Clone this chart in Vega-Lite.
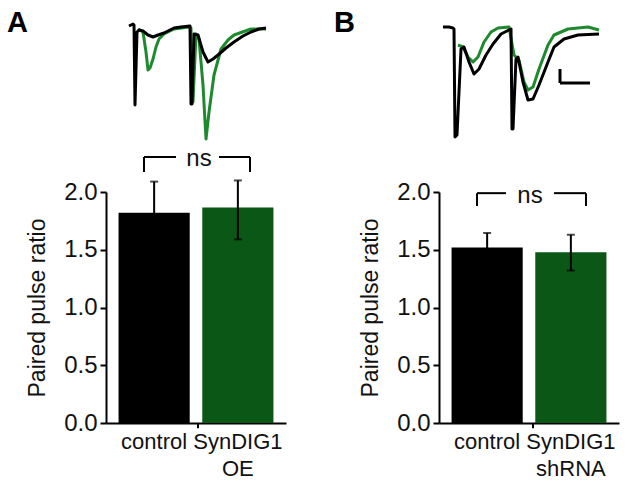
{
  "$schema": "https://vega.github.io/schema/vega-lite/v6.json",
  "background": "white",
  "padding": {"left": 6, "top": 9, "right": 5, "bottom": 5},
  "config": {
    "view": {"stroke": null},
    "font": "Liberation Sans",
    "axis": {
      "grid": false,
      "domainColor": "#000000",
      "domainWidth": 2,
      "tickColor": "#000000",
      "tickWidth": 2,
      "labelColor": "#111111",
      "titleColor": "#111111"
    }
  },
  "datasets": {
    "traceA": [
      {"series": "control", "t": 23, "v": 2},
      {"series": "control", "t": 27, "v": 6},
      {"series": "control", "t": 28, "v": 4},
      {"series": "control", "t": 29, "v": -156},
      {"series": "control", "t": 31, "v": -10},
      {"series": "control", "t": 33, "v": -6},
      {"series": "control", "t": 37, "v": -8},
      {"series": "control", "t": 42, "v": -16},
      {"series": "control", "t": 47, "v": -20},
      {"series": "control", "t": 52, "v": -16},
      {"series": "control", "t": 58, "v": -12},
      {"series": "control", "t": 68, "v": -2},
      {"series": "control", "t": 75, "v": 0},
      {"series": "control", "t": 84, "v": 2},
      {"series": "control", "t": 85, "v": -154},
      {"series": "control", "t": 86, "v": -154},
      {"series": "control", "t": 88, "v": -14},
      {"series": "control", "t": 92, "v": -16},
      {"series": "control", "t": 97, "v": -50},
      {"series": "control", "t": 102, "v": -70},
      {"series": "control", "t": 107, "v": -64},
      {"series": "control", "t": 112, "v": -56},
      {"series": "control", "t": 120, "v": -42},
      {"series": "control", "t": 128, "v": -30},
      {"series": "control", "t": 137, "v": -18},
      {"series": "control", "t": 145, "v": -10},
      {"series": "control", "t": 153, "v": -4},
      {"series": "control", "t": 160, "v": -2},
      {"series": "SynDIG1 OE", "t": 32, "v": -4},
      {"series": "SynDIG1 OE", "t": 37, "v": -10},
      {"series": "SynDIG1 OE", "t": 40, "v": -50},
      {"series": "SynDIG1 OE", "t": 42, "v": -86},
      {"series": "SynDIG1 OE", "t": 44, "v": -82},
      {"series": "SynDIG1 OE", "t": 47, "v": -64},
      {"series": "SynDIG1 OE", "t": 50, "v": -40},
      {"series": "SynDIG1 OE", "t": 53, "v": -24},
      {"series": "SynDIG1 OE", "t": 58, "v": -14},
      {"series": "SynDIG1 OE", "t": 68, "v": -4},
      {"series": "SynDIG1 OE", "t": 83, "v": 0},
      {"series": "SynDIG1 OE", "t": 85, "v": -2},
      {"series": "SynDIG1 OE", "t": 86, "v": -150},
      {"series": "SynDIG1 OE", "t": 87, "v": -150},
      {"series": "SynDIG1 OE", "t": 90, "v": -14},
      {"series": "SynDIG1 OE", "t": 93, "v": -24},
      {"series": "SynDIG1 OE", "t": 97, "v": -116},
      {"series": "SynDIG1 OE", "t": 100, "v": -224},
      {"series": "SynDIG1 OE", "t": 103, "v": -170},
      {"series": "SynDIG1 OE", "t": 108, "v": -96},
      {"series": "SynDIG1 OE", "t": 115, "v": -44},
      {"series": "SynDIG1 OE", "t": 122, "v": -26},
      {"series": "SynDIG1 OE", "t": 128, "v": -16},
      {"series": "SynDIG1 OE", "t": 145, "v": -4},
      {"series": "SynDIG1 OE", "t": 160, "v": -4}
    ],
    "traceB": [
      {"series": "control", "t": 4, "v": 0},
      {"series": "control", "t": 10, "v": 0},
      {"series": "control", "t": 14, "v": -2},
      {"series": "control", "t": 15, "v": -4},
      {"series": "control", "t": 16, "v": -220},
      {"series": "control", "t": 18, "v": -216},
      {"series": "control", "t": 22, "v": -44},
      {"series": "control", "t": 25, "v": -40},
      {"series": "control", "t": 30, "v": -70},
      {"series": "control", "t": 35, "v": -94},
      {"series": "control", "t": 40, "v": -84},
      {"series": "control", "t": 47, "v": -56},
      {"series": "control", "t": 54, "v": -34},
      {"series": "control", "t": 62, "v": -14},
      {"series": "control", "t": 70, "v": -6},
      {"series": "control", "t": 72, "v": -4},
      {"series": "control", "t": 73, "v": -204},
      {"series": "control", "t": 74, "v": -204},
      {"series": "control", "t": 77, "v": -64},
      {"series": "control", "t": 79, "v": -60},
      {"series": "control", "t": 84, "v": -110},
      {"series": "control", "t": 89, "v": -146},
      {"series": "control", "t": 94, "v": -144},
      {"series": "control", "t": 100, "v": -116},
      {"series": "control", "t": 109, "v": -70},
      {"series": "control", "t": 115, "v": -40},
      {"series": "control", "t": 125, "v": -24},
      {"series": "control", "t": 139, "v": -16},
      {"series": "control", "t": 160, "v": -14},
      {"series": "SynDIG1 shRNA", "t": 19, "v": -36},
      {"series": "SynDIG1 shRNA", "t": 24, "v": -40},
      {"series": "SynDIG1 shRNA", "t": 29, "v": -60},
      {"series": "SynDIG1 shRNA", "t": 34, "v": -70},
      {"series": "SynDIG1 shRNA", "t": 39, "v": -60},
      {"series": "SynDIG1 shRNA", "t": 45, "v": -30},
      {"series": "SynDIG1 shRNA", "t": 52, "v": -10},
      {"series": "SynDIG1 shRNA", "t": 59, "v": -2},
      {"series": "SynDIG1 shRNA", "t": 70, "v": 0},
      {"series": "SynDIG1 shRNA", "t": 75, "v": -56},
      {"series": "SynDIG1 shRNA", "t": 80, "v": -66},
      {"series": "SynDIG1 shRNA", "t": 85, "v": -110},
      {"series": "SynDIG1 shRNA", "t": 89, "v": -126},
      {"series": "SynDIG1 shRNA", "t": 94, "v": -120},
      {"series": "SynDIG1 shRNA", "t": 100, "v": -84},
      {"series": "SynDIG1 shRNA", "t": 109, "v": -36},
      {"series": "SynDIG1 shRNA", "t": 115, "v": -16},
      {"series": "SynDIG1 shRNA", "t": 129, "v": -4},
      {"series": "SynDIG1 shRNA", "t": 149, "v": 0},
      {"series": "SynDIG1 shRNA", "t": 160, "v": -6}
    ],
    "scalebarB": [
      {"t": 121, "t2": 151, "v": -112, "v2": -112},
      {"t": 121, "t2": 121, "v": -84, "v2": -112}
    ],
    "barsA": [
      {"group": "control", "mean": 1.82, "lo": 1.55, "hi": 2.09},
      {"group": "SynDIG1 OE", "mean": 1.865, "lo": 1.59, "hi": 2.10}
    ],
    "barsB": [
      {"group": "control", "mean": 1.52, "lo": 1.40, "hi": 1.645},
      {"group": "SynDIG1 shRNA", "mean": 1.478, "lo": 1.32, "hi": 1.63}
    ],
    "bracketA": [
      {"x": 38, "x2": 70, "y": 2.303, "y2": 2.303},
      {"x": 113, "x2": 144, "y": 2.303, "y2": 2.303},
      {"x": 38, "x2": 38, "y": 2.173, "y2": 2.303},
      {"x": 144, "x2": 144, "y": 2.173, "y2": 2.303},
      {"x": 92, "x2": 92, "y": 0, "y2": -0.045}
    ],
    "bracketB": [
      {"x": 38, "x2": 67, "y": 1.99, "y2": 1.99},
      {"x": 115, "x2": 147, "y": 1.99, "y2": 1.99},
      {"x": 38, "x2": 38, "y": 1.879, "y2": 1.99},
      {"x": 147, "x2": 147, "y": 1.879, "y2": 1.99},
      {"x": 94, "x2": 94, "y": 0, "y2": -0.045}
    ],
    "nsA": [{"x": 93, "y": 2.29, "label": "ns"}],
    "nsB": [{"x": 91, "y": 1.965, "label": "ns"}]
  },
  "resolve": {"scale": {"color": "independent"}},
  "hconcat": [
    {
      "vconcat": [
        {
          "width": 180,
          "height": 125,
          "layer": [
            {
              "data": {"name": "traceA"},
              "transform": [{"filter": "datum.series === 'SynDIG1 OE'"}],
              "mark": {"type": "line", "color": "#1e8a2e", "strokeWidth": 3, "strokeJoin": "round"},
              "encoding": {
                "x": {"field": "t", "type": "quantitative", "scale": {"domain": [0, 180], "nice": false, "zero": false}, "axis": null},
                "y": {"field": "v", "type": "quantitative", "scale": {"domain": [-230, 20], "nice": false, "zero": false}, "axis": null}
              }
            },
            {
              "data": {"name": "traceA"},
              "transform": [{"filter": "datum.series === 'control'"}],
              "mark": {"type": "line", "color": "#000000", "strokeWidth": 3, "strokeJoin": "round"},
              "encoding": {
                "x": {"field": "t", "type": "quantitative"},
                "y": {"field": "v", "type": "quantitative"}
              }
            },
            {
              "data": {"values": [{"panel": "A", "t": -99, "v": -10}]},
              "mark": {"type": "text", "align": "left", "baseline": "alphabetic", "fontSize": 29, "fontWeight": "bold", "color": "#000000"},
              "encoding": {
                "x": {"field": "t", "type": "quantitative"},
                "y": {"field": "v", "type": "quantitative"},
                "text": {"field": "panel"}
              }
            }
          ]
        },
        {
          "width": 180,
          "height": 231,
          "layer": [
            {
              "data": {"name": "barsA"},
              "layer": [
                {
                  "mark": {"type": "bar"},
                  "encoding": {
                    "x": {
                      "field": "group", "type": "nominal",
                      "scale": {"domain": ["control", "SynDIG1 OE"], "paddingInner": 0.15, "paddingOuter": 0.15},
                      "axis": {"title": null, "ticks": false, "labelAngle": 0, "labelFontSize": 22, "labelPadding": 8, "labelLineHeight": 27, "labelExpr": "split(datum.label, ' ')"}
                    },
                    "y": {
                      "field": "mean", "type": "quantitative",
                      "scale": {"domain": [0, 2], "nice": false},
                      "axis": {"title": "Paired pulse ratio", "values": [0, 0.5, 1, 1.5, 2], "format": ".1f", "tickSize": 6, "labelPadding": 3, "labelFontSize": 24, "titleFontSize": 23, "titleFontWeight": "normal", "titlePadding": 14}
                    },
                    "color": {"field": "group", "type": "nominal", "scale": {"domain": ["control", "SynDIG1 OE"], "range": ["#000000", "#0b5716"]}, "legend": null}
                  }
                },
                {
                  "mark": {"type": "rule", "color": "#000000", "strokeWidth": 2},
                  "encoding": {
                    "x": {"field": "group", "type": "nominal"},
                    "y": {"field": "lo", "type": "quantitative"},
                    "y2": {"field": "hi"}
                  }
                },
                {
                  "mark": {"type": "tick", "color": "#000000", "thickness": 2, "size": 8},
                  "encoding": {
                    "x": {"field": "group", "type": "nominal"},
                    "y": {"field": "hi", "type": "quantitative"}
                  }
                },
                {
                  "mark": {"type": "tick", "color": "#000000", "thickness": 2, "size": 8},
                  "encoding": {
                    "x": {"field": "group", "type": "nominal"},
                    "y": {"field": "lo", "type": "quantitative"}
                  }
                }
              ]
            },
            {
              "data": {"name": "bracketA"},
              "mark": {"type": "rule", "color": "#000000", "strokeWidth": 2},
              "encoding": {
                "x": {"field": "x", "type": "quantitative", "scale": {"domain": [0, 180], "nice": false, "zero": false}, "axis": null},
                "x2": {"field": "x2"},
                "y": {"field": "y", "type": "quantitative"},
                "y2": {"field": "y2"}
              }
            },
            {
              "data": {"name": "nsA"},
              "mark": {"type": "text", "fontSize": 24, "baseline": "middle", "color": "#111111"},
              "encoding": {
                "x": {"field": "x", "type": "quantitative", "scale": {"domain": [0, 180], "nice": false, "zero": false}, "axis": null},
                "y": {"field": "y", "type": "quantitative"},
                "text": {"field": "label"}
              }
            }
          ],
          "resolve": {"scale": {"x": "independent"}}
        }
      ],
      "spacing": 50,
      "bounds": "flush"
    },
    {
      "vconcat": [
        {
          "width": 180,
          "height": 125,
          "layer": [
            {
              "data": {"name": "traceB"},
              "transform": [{"filter": "datum.series === 'SynDIG1 shRNA'"}],
              "mark": {"type": "line", "color": "#1e8a2e", "strokeWidth": 3, "strokeJoin": "round"},
              "encoding": {
                "x": {"field": "t", "type": "quantitative", "scale": {"domain": [0, 180], "nice": false, "zero": false}, "axis": null},
                "y": {"field": "v", "type": "quantitative", "scale": {"domain": [-230, 20], "nice": false, "zero": false}, "axis": null}
              }
            },
            {
              "data": {"name": "traceB"},
              "transform": [{"filter": "datum.series === 'control'"}],
              "mark": {"type": "line", "color": "#000000", "strokeWidth": 3, "strokeJoin": "round"},
              "encoding": {
                "x": {"field": "t", "type": "quantitative"},
                "y": {"field": "v", "type": "quantitative"}
              }
            },
            {
              "data": {"name": "scalebarB"},
              "mark": {"type": "rule", "color": "#000000", "strokeWidth": 3},
              "encoding": {
                "x": {"field": "t", "type": "quantitative"},
                "x2": {"field": "t2"},
                "y": {"field": "v", "type": "quantitative"},
                "y2": {"field": "v2"}
              }
            },
            {
              "data": {"values": [{"panel": "B", "t": -105, "v": -10}]},
              "mark": {"type": "text", "align": "left", "baseline": "alphabetic", "fontSize": 29, "fontWeight": "bold", "color": "#000000"},
              "encoding": {
                "x": {"field": "t", "type": "quantitative"},
                "y": {"field": "v", "type": "quantitative"},
                "text": {"field": "panel"}
              }
            }
          ]
        },
        {
          "width": 180,
          "height": 231,
          "layer": [
            {
              "data": {"name": "barsB"},
              "layer": [
                {
                  "mark": {"type": "bar"},
                  "encoding": {
                    "x": {
                      "field": "group", "type": "nominal",
                      "scale": {"domain": ["control", "SynDIG1 shRNA"], "paddingInner": 0.15, "paddingOuter": 0.15},
                      "axis": {"title": null, "ticks": false, "labelAngle": 0, "labelFontSize": 22, "labelPadding": 8, "labelLineHeight": 27, "labelExpr": "split(datum.label, ' ')"}
                    },
                    "y": {
                      "field": "mean", "type": "quantitative",
                      "scale": {"domain": [0, 2], "nice": false},
                      "axis": {"title": "Paired pulse ratio", "values": [0, 0.5, 1, 1.5, 2], "format": ".1f", "tickSize": 6, "labelPadding": 3, "labelFontSize": 24, "titleFontSize": 23, "titleFontWeight": "normal", "titlePadding": 14}
                    },
                    "color": {"field": "group", "type": "nominal", "scale": {"domain": ["control", "SynDIG1 shRNA"], "range": ["#000000", "#0b5716"]}, "legend": null}
                  }
                },
                {
                  "mark": {"type": "rule", "color": "#000000", "strokeWidth": 2},
                  "encoding": {
                    "x": {"field": "group", "type": "nominal"},
                    "y": {"field": "lo", "type": "quantitative"},
                    "y2": {"field": "hi"}
                  }
                },
                {
                  "mark": {"type": "tick", "color": "#000000", "thickness": 2, "size": 8},
                  "encoding": {
                    "x": {"field": "group", "type": "nominal"},
                    "y": {"field": "hi", "type": "quantitative"}
                  }
                },
                {
                  "mark": {"type": "tick", "color": "#000000", "thickness": 2, "size": 8},
                  "encoding": {
                    "x": {"field": "group", "type": "nominal"},
                    "y": {"field": "lo", "type": "quantitative"}
                  }
                }
              ]
            },
            {
              "data": {"name": "bracketB"},
              "mark": {"type": "rule", "color": "#000000", "strokeWidth": 2},
              "encoding": {
                "x": {"field": "x", "type": "quantitative", "scale": {"domain": [0, 180], "nice": false, "zero": false}, "axis": null},
                "x2": {"field": "x2"},
                "y": {"field": "y", "type": "quantitative"},
                "y2": {"field": "y2"}
              }
            },
            {
              "data": {"name": "nsB"},
              "mark": {"type": "text", "fontSize": 24, "baseline": "middle", "color": "#111111"},
              "encoding": {
                "x": {"field": "x", "type": "quantitative", "scale": {"domain": [0, 180], "nice": false, "zero": false}, "axis": null},
                "y": {"field": "y", "type": "quantitative"},
                "text": {"field": "label"}
              }
            }
          ],
          "resolve": {"scale": {"x": "independent"}}
        }
      ],
      "spacing": 50,
      "bounds": "flush"
    }
  ],
  "spacing": 333,
  "bounds": "flush"
}
